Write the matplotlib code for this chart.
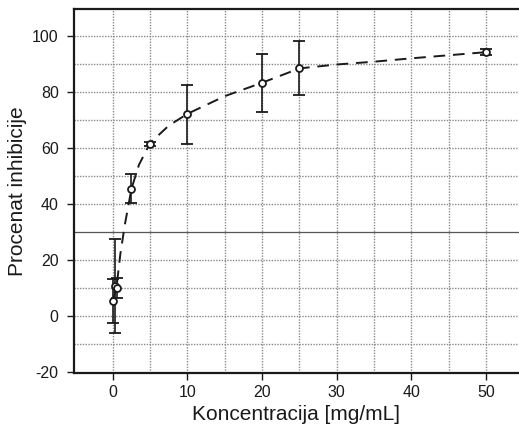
import numpy as np
import matplotlib.pyplot as plt

plt.rcParams['font.family'] = ['Liberation Sans', 'DejaVu Sans']
plt.rcParams['axes.unicode_minus'] = False

# measured points (concentration, % inhibition, error)
conc = [0.05, 0.25, 0.5, 2.5, 5, 10, 20, 25, 50]
inhib = [5.4, 10.8, 10.0, 45.5, 61.5, 72.0, 83.2, 88.5, 94.2]
err = [7.8, 16.8, 3.5, 5.2, 0.8, 10.5, 10.2, 9.6, 1.0]

# dashed trend curve
curve_x = [0.0, 0.5, 1.0, 1.6, 2.5, 3.5, 5, 7.5, 10, 15, 20, 25, 30, 35, 40, 45, 50]
curve_y = [5.4, 10.5, 22.0, 32.5, 45.5, 54.0, 61.8, 68.0, 72.2, 78.5, 83.3, 88.4, 89.8, 90.8, 92.0, 93.1, 94.2]

fig = plt.figure(figsize=(5.19, 4.29), dpi=100)
ax = fig.add_axes([74 / 519, 1 - 373 / 429, 1 - 74 / 519, (373 - 9) / 429])

ax.set_xlim(-5.2, 54.4)
ax.set_ylim(-20.3, 109.6)

# grid
for gx in np.arange(0, 55, 5):
    ax.axvline(gx, color='#8a8a8a', lw=1.0, ls=(0, (1, 1)), zorder=0)
for gy in np.arange(-10, 105, 10):
    if gy == 30:
        ax.axhline(gy, color='#555555', lw=0.9, zorder=0)
    else:
        ax.axhline(gy, color='#8a8a8a', lw=1.0, ls=(0, (1, 1)), zorder=0)

ax.plot(curve_x, curve_y, color='#1a1a1a', lw=1.4, ls=(0, (6, 4)), zorder=2)
ax.errorbar(conc, inhib, yerr=err, fmt='o', color='#1a1a1a', ecolor='#1a1a1a',
            elinewidth=1.2, capsize=4.3, capthick=1.2,
            mfc='white', mec='#1a1a1a', mew=1.3, ms=5, zorder=3)

ax.set_xticks(np.arange(0, 51, 10))
ax.set_yticks(np.arange(-20, 101, 20))
ax.tick_params(direction='out', length=5, width=1, labelsize=11.5, colors='#1a1a1a')
ax.tick_params(axis='y', pad=6)

for s in ['left', 'bottom', 'top']:
    ax.spines[s].set_linewidth(1.6)
    ax.spines[s].set_color('#1a1a1a')
ax.spines['right'].set_visible(False)

ax.set_xlabel('Koncentracija [mg/mL]', fontsize=15, color='#1a1a1a', labelpad=4)
ax.set_ylabel('Procenat inhibicije', fontsize=15, color='#1a1a1a', labelpad=4)

fig.savefig('out.png', dpi=100)
